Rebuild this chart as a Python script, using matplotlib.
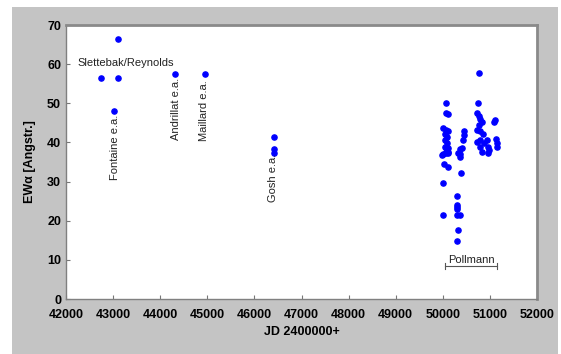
import numpy as np
import matplotlib.pyplot as plt
from matplotlib.patches import Rectangle

plt.rcParams['font.family'] = ['Liberation Sans', 'DejaVu Sans']

# literature measurements (JD - 2400000, EW alpha)
lit_jd = [42745, 43113, 43113, 43028, 44319, 44943, 46411, 46411, 46411]
lit_ew = [56.5, 56.5, 66.3, 48.0, 57.5, 57.4, 41.4, 38.2, 37.2]

# Pollmann measurements
pol_jd = [50060, 50070, 50120, 50000, 50060, 50110, 50040, 50090, 50040, 50080,
          50040, 50100, 50060, 50000, 50110, 49980, 50070, 50110, 50030, 50110,
          50000, 50000,
          50450, 50450, 50420, 50400, 50370, 50320, 50360, 50360, 50380, 50310,
          50310, 50310, 50310, 50300, 50370, 50330, 50310,
          50760, 50750, 50730, 50760, 50780, 50830, 50760, 50730, 50780, 50850,
          50780, 50930, 50730, 50880, 50780, 50960, 50980, 50830, 50960,
          51110, 51080, 51130, 51150, 51160]
pol_ew = [50.0, 47.6, 47.3, 43.6, 43.3, 42.9, 42.1, 41.5, 40.6, 39.9,
          38.9, 38.5, 37.6, 37.0, 37.2, 36.8, 37.2, 37.6, 34.5, 33.6,
          29.7, 21.5,
          42.8, 41.9, 40.6, 38.7, 38.2, 37.2, 37.0, 36.4, 32.3, 26.3,
          24.0, 23.4, 22.9, 21.5, 21.5, 17.6, 14.9,
          57.8, 50.0, 47.4, 46.8, 45.9, 45.3, 44.5, 43.2, 42.8, 42.2,
          40.7, 40.6, 40.2, 39.8, 38.8, 38.8, 38.1, 37.6, 37.4,
          45.7, 45.3, 40.8, 39.8, 38.8]

# source labels: text, x, y, rotation
sources = [
    ('Slettebak/Reynolds', 43277, 60.4, 0),
    ('Fontaine e.a.', 43043, 38.8, 90),
    ('Andrillat e.a.', 44333, 48.5, 90),
    ('Maillard e.a.', 44921, 48.2, 90),
    ('Gosh e.a.', 46405, 31.0, 90),
]

fig = plt.figure(figsize=(5.61, 3.54), dpi=100, facecolor='white')
fig.patches.append(Rectangle((12 / 561, 0), 546 / 561, 347 / 354,
                             transform=fig.transFigure, facecolor='#c4c4c4',
                             edgecolor='none', zorder=-10))
ax = fig.add_axes([66 / 561, 1 - 299 / 354, 471 / 561, 274 / 354])
ax.set_facecolor('white')

ax.scatter(lit_jd, lit_ew, s=14, color='#0000ff', zorder=3)
ax.scatter(pol_jd, pol_ew, s=14, color='#0000ff', zorder=3)

for txt, x, y, rot in sources:
    ax.text(x, y, txt, rotation=rot, ha='center', va='center', fontsize=8,
            color='#222222')

# Pollmann bracket
x0, x1 = min(pol_jd) + 70, max(pol_jd)
yb = 8.4
ax.plot([x0, x1], [yb, yb], color='#555555', lw=0.8)
ax.plot([x0, x0], [yb - 0.8, yb + 0.8], color='#555555', lw=0.8)
ax.plot([x1, x1], [yb - 0.8, yb + 0.8], color='#555555', lw=0.8)
ax.text((x0 + x1) / 2, yb + 0.3, 'Pollmann', ha='center', va='bottom',
        fontsize=8, color='#222222')

ax.set_xlim(42000, 52000)
ax.set_ylim(0, 70)
ax.set_xticks(np.arange(42000, 52001, 1000))
ax.set_yticks(np.arange(0, 71, 10))
ax.tick_params(direction='in', length=3, width=0.8, colors='#777777',
               labelcolor='black', labelsize=9)
for lab in ax.get_xticklabels() + ax.get_yticklabels():
    lab.set_fontweight('bold')
ax.tick_params(axis='x', pad=7)

for side in ['left', 'bottom']:
    ax.spines[side].set_color('#808080')
    ax.spines[side].set_linewidth(1)
for side in ['top', 'right']:
    ax.spines[side].set_color('#8a8a8a')
    ax.spines[side].set_linewidth(2)

ax.set_xlabel('JD 2400000+', fontsize=9, fontweight='bold', labelpad=4)
ax.set_ylabel('EWα [Angstr.]', fontsize=9, fontweight='bold', labelpad=8)

fig.savefig('out.png', dpi=100, facecolor=fig.get_facecolor())
